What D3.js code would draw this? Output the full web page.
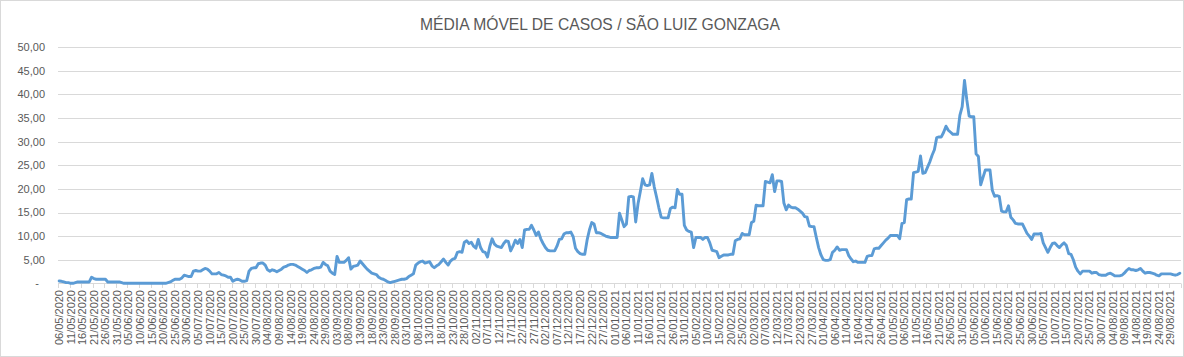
<!DOCTYPE html>
<html>
<head>
<meta charset="utf-8">
<script src="https://cdn.jsdelivr.net/npm/d3@7"></script>
<style>
html,body{margin:0;padding:0;background:#fff;}
svg{display:block;}
</style>
</head>
<body>
<svg id="chart" width="1184" height="357"></svg>
<script>
const title = "MÉDIA MÓVEL DE CASOS / SÃO LUIZ GONZAGA";
const startDate = "2020-05-06";
const yTicks = [0, 5, 10, 15, 20, 25, 30, 35, 40, 45, 50];
const yTickLabels = ["-", "5,00", "10,00", "15,00", "20,00", "25,00", "30,00", "35,00", "40,00", "45,00", "50,00"];
// daily moving average of cases, one value per day from 06/05/2020
const values = [
0.5,0.43,0.29,0.14,0.14,0,0,0.14,0.29,0.29,
0.29,0.29,0.29,0.29,1.29,1.0,0.86,0.86,0.86,0.86,
0.86,0.29,0.29,0.29,0.29,0.29,0.29,0.14,0,0,
0,0,0,0,0,0,0,0,0,0,
0,0,0,0,0,0,0,0.14,0.29,0.57,
0.86,0.86,0.86,1.14,1.71,1.57,1.43,1.43,2.57,2.71,
2.57,2.57,2.86,3.14,3.0,2.57,2.0,2.0,2.0,2.29,
1.86,1.71,1.57,1.29,1.29,0.43,0.71,0.86,0.71,0.43,
0.43,0.57,2.57,3.14,3.29,3.29,4.14,4.29,4.29,3.86,
2.86,2.57,2.86,2.71,2.43,2.71,3.0,3.43,3.57,3.86,
4.0,4.0,3.86,3.57,3.29,3.0,2.71,2.29,2.71,2.86,
3.14,3.29,3.29,3.43,4.43,4.0,3.71,2.57,2.14,1.86,
5.71,4.43,4.43,4.43,4.86,5.43,3.0,3.57,3.71,3.86,
4.71,4.14,3.57,3.0,2.57,2.14,2.0,1.86,1.29,1.0,
0.86,0.57,0.29,0.14,0.29,0.43,0.57,0.71,0.86,
0.86,1.0,1.43,1.71,2.0,3.86,4.29,4.57,4.71,4.29,
4.43,4.57,3.71,3.29,3.71,4.0,4.57,5.14,4.43,3.86,
4.71,5.14,5.29,6.57,6.71,6.57,8.71,9.0,8.43,8.71,
7.86,7.43,9.29,7.57,6.71,6.57,5.57,7.86,9.43,8.29,
7.86,7.71,7.57,8.43,9.0,8.86,6.86,7.86,9.14,8.43,
9.29,7.57,11.29,11.43,11.43,12.29,11.29,10.14,10.86,9.43,
8.43,7.57,7.0,6.86,6.86,6.86,7.86,9.29,9.43,10.43,
10.71,10.71,10.86,9.86,7.43,6.71,6.29,6.14,6.14,9.14,
11.29,12.86,12.57,10.71,10.71,10.57,10.29,10.0,9.86,9.71,
9.71,9.71,9.71,14.86,13.43,12.0,12.57,18.29,18.43,18.29,
13.0,16.86,19.43,22.14,20.86,20.71,20.86,23.29,20.43,18.29,
16.0,14.0,13.86,13.86,13.86,15.86,16.14,16.0,19.86,18.86,
18.86,12.29,11.29,11.0,10.86,7.57,9.71,9.71,9.71,9.29,
9.71,9.71,8.57,7.0,6.86,6.71,5.43,5.71,6.0,6.0,
6.0,6.14,6.14,9.0,9.29,9.43,10.57,10.29,10.29,10.29,
12.86,13.14,16.57,16.43,16.43,16.43,21.57,21.43,21.29,23.0,
19.43,21.71,21.71,21.57,17.0,15.57,16.57,16.14,16.0,16.0,
15.71,15.29,14.86,14.14,14.0,12.14,12.0,12.0,9.71,7.57,
6.0,5.0,4.86,4.86,5.0,6.57,7.0,7.71,7.0,7.14,
7.14,7.14,5.86,5.14,4.57,4.71,4.43,4.43,4.43,4.43,
5.71,5.86,5.86,7.29,7.43,7.43,8.0,8.57,9.14,9.57,
10.14,10.14,10.14,10.14,9.43,12.71,12.86,17.71,17.86,17.86,
23.43,23.57,23.71,27.0,23.29,23.43,24.57,25.71,27.14,
28.29,30.86,31.0,31.0,32.0,33.29,32.43,32.0,31.57,31.57,
31.57,35.57,37.43,43.0,38.86,35.43,35.29,35.29,27.43,26.86,
20.86,22.43,24.0,24.0,24.0,19.71,18.43,18.57,18.43,15.29,
15.14,15.14,16.43,14.0,13.43,12.71,12.57,12.57,12.57,11.57,
10.57,10.0,9.29,10.43,10.43,10.43,10.57,8.57,7.57,6.57,
7.57,8.43,8.57,8.0,7.57,8.14,8.57,8.0,6.29,6.14,
5.0,3.43,2.57,2.0,2.57,2.57,2.57,2.57,2.14,2.29,
2.29,1.86,1.71,1.71,1.71,2.0,2.14,1.86,1.57,1.57,
1.57,1.71,2.14,2.71,3.14,2.86,2.86,2.71,2.86,3.14,
2.57,2.14,2.29,2.29,2.14,2.0,1.71,1.57,2.0,2.0,
2.0,2.0,2.0,1.86,1.71,1.86,2.14
];
const labelEvery = 5;

const fmt = d3.timeFormat("%d/%m/%Y");
const start = d3.timeParse("%Y-%m-%d")(startDate);
const categories = values.map((v, i) => fmt(d3.timeDay.offset(start, i)));

const svg = d3.select("#chart");
const W = 1184, H = 357;
const plot = {left: 58, right: 1181, top: 47.3, bottom: 283.3};

svg.append("rect").attr("x", 0.5).attr("y", 0.5).attr("width", W - 1).attr("height", H - 1)
  .attr("fill", "#fff").attr("stroke", "#d9d9d9");

const x = d3.scaleBand().domain(d3.range(values.length)).range([plot.left, plot.right]).padding(0);
const y = d3.scaleLinear().domain([0, 50]).range([plot.bottom, plot.top]);

// gridlines
svg.append("g").selectAll("line").data(yTicks.filter(t => t > 0)).join("line")
  .attr("x1", plot.left).attr("x2", plot.right)
  .attr("y1", d => Math.round(y(d)) + 0.5).attr("y2", d => Math.round(y(d)) + 0.5)
  .attr("stroke", "#d9d9d9").attr("stroke-width", 1);

// x axis line
svg.append("line").attr("x1", plot.left).attr("x2", plot.right)
  .attr("y1", Math.round(y(0)) + 0.5).attr("y2", Math.round(y(0)) + 0.5)
  .attr("stroke", "#d9d9d9");

// y labels
svg.append("g").selectAll("text").data(yTicks).join("text")
  .attr("x", (d, i) => i === 0 ? 39 : 45)
  .attr("y", d => y(d))
  .attr("dy", "0.35em")
  .attr("text-anchor", "end")
  .attr("font-family", "Liberation Sans, Arial, sans-serif")
  .attr("font-size", 11)
  .attr("fill", "#595959")
  .text((d, i) => yTickLabels[i]);

// x tick marks (category boundaries every 5)
const tickIdx = d3.range(0, values.length + 1, labelEvery);
svg.append("g").selectAll("line").data(tickIdx).join("line")
  .attr("x1", d => Math.round(plot.left + d * x.step()) + 0.5)
  .attr("x2", d => Math.round(plot.left + d * x.step()) + 0.5)
  .attr("y1", Math.round(y(0)) + 0.5).attr("y2", Math.round(y(0)) + 5)
  .attr("stroke", "#d9d9d9");

// x labels
const labelIdx = d3.range(0, values.length, labelEvery);
svg.append("g").selectAll("text").data(labelIdx).join("text")
  .attr("transform", d => `translate(${x(d) + x.bandwidth() / 2},290) rotate(-90)`)
  .attr("dy", "0.35em")
  .attr("text-anchor", "end")
  .attr("font-family", "Liberation Sans, Arial, sans-serif")
  .attr("font-size", 11)
  .attr("fill", "#595959")
  .text(d => categories[d]);

// line
const line = d3.line()
  .x((d, i) => x(i) + x.bandwidth() / 2)
  .y(d => y(d));
svg.append("path").datum(values)
  .attr("d", line)
  .attr("fill", "none")
  .attr("stroke", "#5b9bd5")
  .attr("stroke-width", 2.9)
  .attr("stroke-linejoin", "round")
  .attr("stroke-linecap", "round");

// title
svg.append("text")
  .attr("x", 600).attr("y", 30)
  .attr("text-anchor", "middle")
  .attr("font-family", "Liberation Sans, Arial, sans-serif")
  .attr("font-size", 17)
  .attr("fill", "#595959")
  .attr("textLength", 360)
  .attr("lengthAdjust", "spacingAndGlyphs")
  .text(title);
</script>
</body>
</html>
